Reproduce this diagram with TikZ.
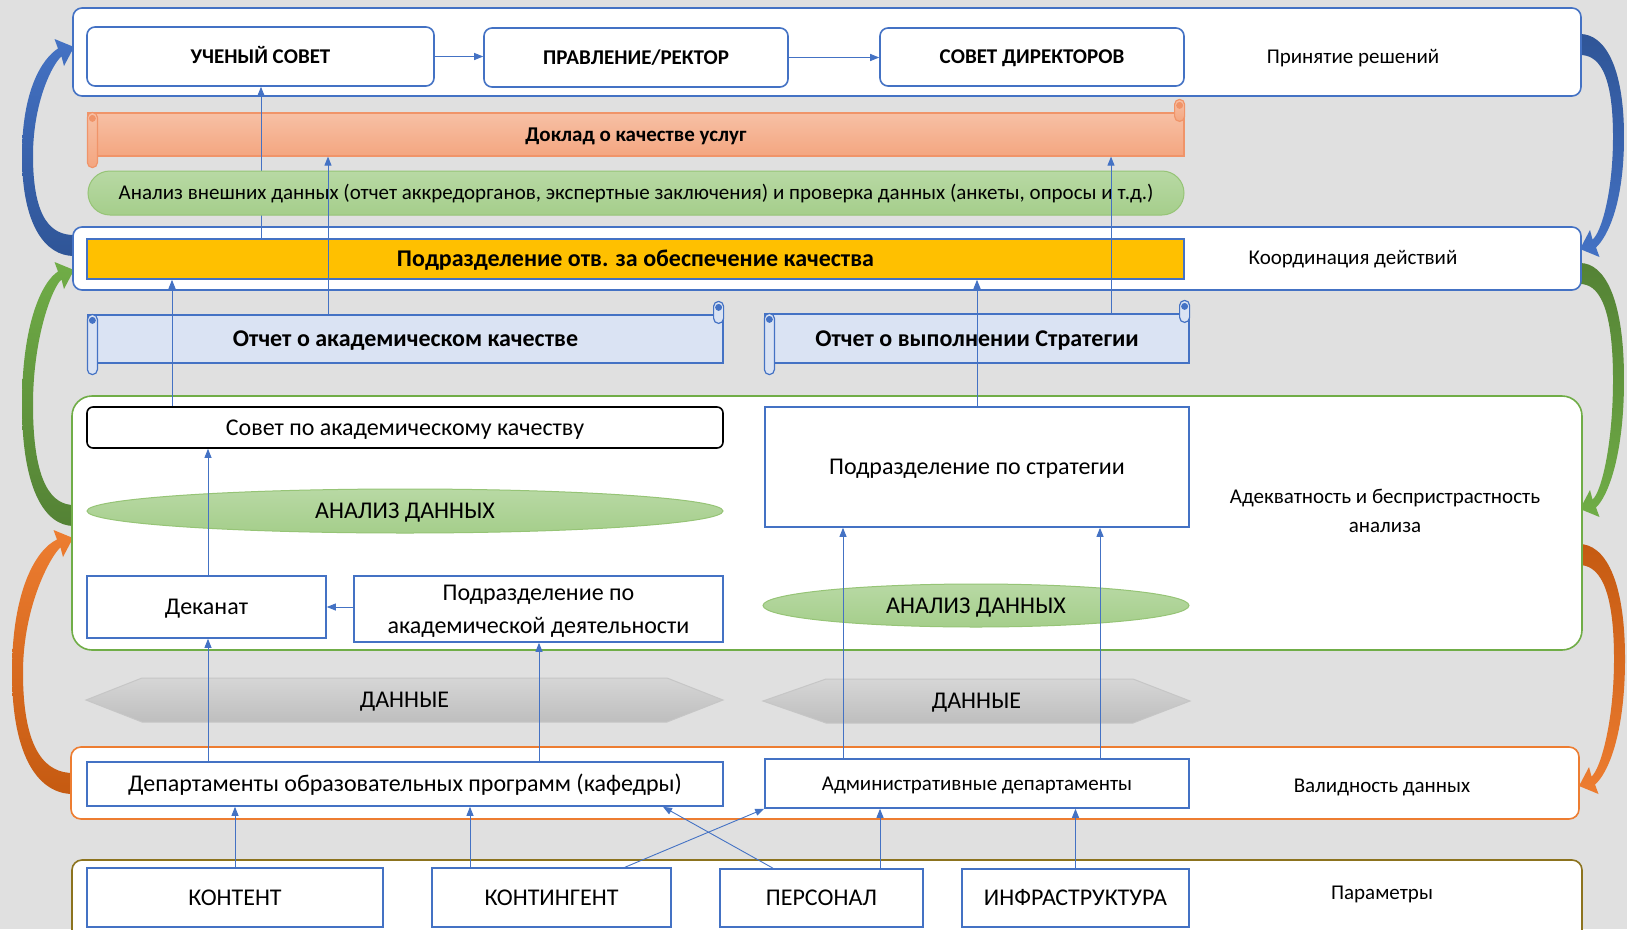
\documentclass[tikz,border=0pt]{standalone}
\usepackage{fontspec}
\setmainfont{Carlito}
\usetikzlibrary{shapes.geometric,calc,arrows.meta}
\definecolor{bg}{RGB}{224,224,224}
\definecolor{cblue}{RGB}{68,114,196}
\definecolor{cbluedk}{RGB}{47,85,151}
\definecolor{cgreen}{RGB}{112,173,71}
\definecolor{cgreendk}{RGB}{84,130,53}
\definecolor{corange}{RGB}{237,125,49}
\definecolor{corangedk}{RGB}{197,90,17}
\definecolor{colive}{RGB}{140,115,30}
\definecolor{cyellow}{RGB}{255,192,0}
\definecolor{cscroll}{RGB}{218,227,243}
\definecolor{salmonT}{RGB}{247,192,165}
\definecolor{salmonB}{RGB}{244,166,128}
\definecolor{salmonD}{RGB}{240,148,105}
\definecolor{greenT}{RGB}{184,217,164}
\definecolor{greenB}{RGB}{165,206,139}
\definecolor{greenD}{RGB}{150,196,118}
\definecolor{grayT}{RGB}{214,214,214}
\definecolor{grayB}{RGB}{190,190,190}
\definecolor{grayD}{RGB}{198,198,198}
\newcommand{\myfA}{\fontsize{21}{25}\selectfont}
\newcommand{\myfB}{\fontsize{24}{33}\selectfont}
\newcommand{\curvarr}[5]{%
  \begin{scope}[shift={#1},#2]
    \path[#5] (0,11) .. controls ({-0.55*#4},11) and ({-#4},{-0.1*#3}) .. ({-#4},{-0.45*#3})
      .. controls ({-#4},{-0.78*#3}) and ({-0.62*#4},{-#3+12}) .. (-16,{-#3+1.5})
      -- (-19.5,{-#3-8}) -- (0,{-#3}) -- (-10,{-#3+19}) -- (-12.5,{-#3+9.5})
      .. controls (-21,{-#3+16}) and ({-(#4-11)},{-0.75*#3+5}) .. ({-(#4-11)},{-0.45*#3})
      .. controls ({-(#4-11)},{-0.12*#3}) and ({-0.5*#4+5},-10) .. (0,-10) -- cycle;
  \end{scope}}
\newcommand{\scrollrolls}[3]{%
  \path[#2, draw=#3, line width=1.2pt, rounded corners=5pt] (#1.north west) rectangle ($(#1.south west)+(10,11)$);
  \path[draw=#3, fill=#3, line width=0.8pt] ($(#1.north west)+(5,6)$) circle[radius=3pt];
  \path[#2, draw=#3, line width=1.2pt, rounded corners=5pt] ($(#1.north east)+(-10,-13)$) rectangle ($(#1.north east)+(0,9)$);
  \path[draw=#3, fill=#3, line width=0.8pt] ($(#1.north east)+(-5,-7)$) circle[radius=3pt];
}
\begin{document}
\begin{tikzpicture}[x=1pt,y=-1pt,
  sz/.style 2 args={minimum width=#1pt, minimum height=#2pt, inner sep=0pt},
  tA/.style={font=\myfA, text height=14pt, text depth=1pt},
  tB/.style={font=\myfB, text height=16pt, text depth=1pt},
  band/.style={fill=white, line width=1.6pt, rounded corners=9pt},
  box/.style={draw=cblue, fill=white, line width=1.6pt, align=center},
  rbox/.style={box, rounded corners=8pt},
  conn/.style={draw=cblue, line width=0.9pt, -{Triangle[length=9pt,width=7pt]}},
  ell/.style={ellipse, draw=greenD, line width=1pt, top color=greenT, bottom color=greenB, tB},
  hex/.style={draw=grayD, line width=1pt, top color=grayT, bottom color=grayB},
]
\useasboundingbox (0,0) rectangle (1627,929);
\fill[bg] (0,0) rectangle (1627,929);

% curved arrows between levels
\curvarr{(74,245)}{}{198}{52}{top color=cblue, bottom color=cbluedk}
\curvarr{(74,515)}{}{245}{52}{top color=cgreen, bottom color=cgreendk}
\curvarr{(73,783)}{}{245}{61}{top color=corange, bottom color=corangedk}
\curvarr{(1580,45)}{xscale=-1,yscale=-1}{204}{44}{top color=cbluedk, bottom color=cblue}
\curvarr{(1580,274)}{xscale=-1,yscale=-1}{235}{44}{top color=cgreendk, bottom color=cgreen}
\curvarr{(1579,555)}{xscale=-1,yscale=-1}{231}{46}{top color=corangedk, bottom color=corange}

% bands
\node[band, draw=cblue, sz={1508}{88}] (bTop) at (827,52) {};
\node[band, draw=cblue, sz={1508}{63}] (bCoord) at (827,258.5) {};
\node[band, draw=cgreen, rounded corners=20pt, sz={1510}{254}] (bGreen) at (827,523) {};
\node[band, draw=corange, rounded corners=10pt, sz={1508}{72}] (bOrange) at (825,783) {};
\node[band, draw=colive, rounded corners=10pt, sz={1510}{80}] (bParam) at (827,900) {};

% side labels
\node[tA] (tPR) at (1353,57) {Принятие решений};
\node[tA] (tKD) at (1353,258) {Координация действий};
\node[font=\fontsize{21}{29}\selectfont, align=center] (tAB) at (1385,511) {Адекватность и беспристрастность\\анализа};
\node[tA] (tVD) at (1382,786) {Валидность данных};
\node[tA] (tPa) at (1382,893) {Параметры};

% x positions of connectors
\coordinate (x172) at (172,0);
\coordinate (x208) at (208,0);
\coordinate (x261) at (261,0);
\coordinate (x328) at (328,0);
\coordinate (x470) at (470,0);
\coordinate (x539) at (539,0);
\coordinate (x625) at (625,0);
\coordinate (x663) at (663,0);
\coordinate (x773) at (773,0);
\coordinate (x843) at (843,0);
\coordinate (x880) at (880,0);
\coordinate (x1100) at (1100,0);
\coordinate (x1111) at (1111,0);

% decision level
\node[rbox, sz={347}{59}, tA, font=\myfA\bfseries] (uch) at (260.5,56.5) {УЧЕНЫЙ СОВЕТ};
\node[rbox, sz={304}{59}, tA, font=\myfA\bfseries] (prav) at (636,57.5) {ПРАВЛЕНИЕ/РЕКТОР};
\node[rbox, sz={304}{58}, tA, font=\myfA\bfseries] (sdir) at (1032,57) {СОВЕТ ДИРЕКТОРОВ};
\draw[conn] (uch.east) -- (uch.east -| prav.west);
\draw[conn] (prav.east) -- (prav.east -| sdir.west);

% report on quality of services
\node[sz={1096}{43}, draw=salmonD, line width=1.2pt, top color=salmonT, bottom color=salmonB, tA, font=\myfA\bfseries] (dok) at (636,134.5) {Доклад о качестве услуг};
\scrollrolls{dok}{top color=salmonT, bottom color=salmonB}{salmonD}

% quality unit
\node[sz={1097}{40}, draw=cblue, line width=1.6pt, fill=cyellow, tB, font=\myfB\bfseries] (yel) at (635.5,259) {Подразделение отв. за обеспечение качества};
\draw[conn] (yel.north -| x261) -- (uch.south -| x261);

\node[sz={1096}{44}, draw=greenD, line width=1pt, rounded corners=22pt, top color=greenT, bottom color=greenB, tA] (pill) at (636,193) {Анализ внешних данных (отчет аккредорганов, экспертные заключения) и проверка данных (анкеты, опросы и т.д.)};

% reports
\node[sz={635}{48}, draw=cblue, line width=1.2pt, fill=cscroll, tB, font=\myfB\bfseries] (ota) at (405.5,339) {Отчет о академическом качестве};
\scrollrolls{ota}{fill=cscroll}{cblue}
\node[sz={424}{49}, draw=cblue, line width=1.2pt, fill=cscroll, tB, font=\myfB\bfseries] (ots) at (977,338.5) {Отчет о выполнении Стратегии};
\scrollrolls{ots}{fill=cscroll}{cblue}

% analysis level
\node[draw=black, fill=white, line width=1.6pt, rounded corners=6pt, sz={636}{41}, tB] (sak) at (405,427.5) {Совет по академическому качеству};
\node[ell, sz={636}{44}] (ellL) at (405,511) {АНАЛИЗ ДАННЫХ};
\node[box, sz={239}{62}, tB] (dek) at (206.5,607) {Деканат};
\node[box, sz={369}{66}] (pad) at (538.5,609) {};
\node[font=\myfB, align=center] (padt) at ($(pad.center)+(0,2.5)$) {Подразделение по\\академической деятельности};
\node[box, sz={424}{120}, tB] (strat) at (977,467) {Подразделение по стратегии};
\node[ell, sz={426}{43}] (ellR) at (976,605.5) {АНАЛИЗ ДАННЫХ};

% data
\path[hex] (86,700) -- (142,678) -- (667,678) -- (723,700) -- (667,722) -- (142,722) -- cycle;
\node[tB] (danL) at (404.5,700) {ДАННЫЕ};
\path[hex] (763,701) -- (826,679) -- (1133,679) -- (1190,701) -- (1133,723) -- (826,723) -- cycle;
\node[tB] (danR) at (976.5,701) {ДАННЫЕ};

% departments
\node[box, sz={636}{44}, tB] (dep) at (405,784) {Департаменты образовательных программ (кафедры)};
\node[box, sz={424}{49}, tA] (adm) at (977,783.5) {Административные департаменты};

% parameters
\node[box, sz={296}{59}, tB] (kont) at (235,897.5) {КОНТЕНТ};
\node[box, sz={239}{59}, tB] (kontg) at (551.5,897.5) {КОНТИНГЕНТ};
\node[box, sz={203}{58}, tB] (pers) at (821.5,898) {ПЕРСОНАЛ};
\node[box, sz={227}{58}, tB] (infra) at (1075.5,898) {ИНФРАСТРУКТУРА};

% connectors
\draw[conn] (dep.north -| x208) -- (dek.south -| x208);
\draw[conn] (dep.north -| x539) -- (pad.south -| x539);
\draw[conn] (dek.north -| x208) -- (sak.south -| x208);
\draw[conn] (pad.west |- dek.east) -- (dek.east);
\draw[conn] (sak.north -| x172) -- (yel.south -| x172);
\draw[conn] (ota.north -| x328) -- (dok.south -| x328);
\draw[conn] (strat.north) -- (yel.south -| strat.north);
\draw[conn] (ots.north -| x1111) -- (dok.south -| x1111);
\draw[conn] (adm.north -| x843) -- (strat.south -| x843);
\draw[conn] (adm.north -| x1100) -- (strat.south -| x1100);
\draw[conn] (kont.north) -- (dep.south -| kont.north);
\draw[conn] (kontg.north -| x470) -- (dep.south -| x470);
\draw[conn] (kontg.north -| x625) -- (adm.south west);
\draw[conn] (pers.north -| x773) -- (dep.south -| x663);
\draw[conn] (pers.north -| x880) -- (adm.south -| x880);
\draw[conn] (infra.north) -- (adm.south -| infra.north);
\end{tikzpicture}
\end{document}
